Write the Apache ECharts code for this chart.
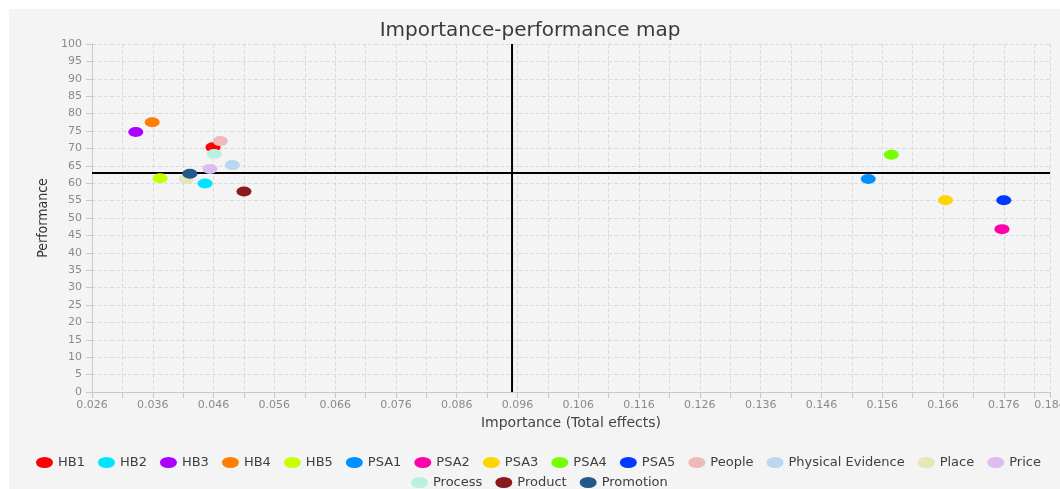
<!DOCTYPE html>
<html>
<head>
<meta charset="utf-8">
<script src="https://cdn.jsdelivr.net/npm/echarts@6/dist/echarts.min.js"></script>
<style>
  html, body { margin: 0; padding: 0; background: #fff; }
  #panel { position: absolute; left: 9px; top: 9px; width: 1051px; height: 480px; background: #f4f4f4; }
  #chart { position: absolute; left: 0; top: 0; width: 1060px; height: 489px; }
</style>
</head>
<body>
<div id="panel"></div>
<div id="chart"></div>
<script>
// constructs / indicators
var names = ['HB1', 'HB2', 'HB3', 'HB4', 'HB5', 'PSA1', 'PSA2', 'PSA3', 'PSA4', 'PSA5',
  'People', 'Physical Evidence', 'Place', 'Price', 'Process', 'Product', 'Promotion'];
// importance (total effects)
var importance = [0.0459, 0.0446, 0.0332, 0.0359, 0.0372, 0.1537, 0.1757, 0.1664, 0.1575, 0.1760,
  0.0471, 0.0491, 0.0415, 0.0454, 0.0461, 0.0510, 0.0421];
// performance
var performance = [70.3, 59.9, 74.7, 77.5, 61.4, 61.2, 46.8, 55.1, 68.2, 55.1,
  72.1, 65.2, 61.2, 64.1, 68.4, 57.6, 62.7];
var colors = ['#ff0000', '#00e5ff', '#aa00ff', '#ff7f00', '#c6ff00', '#0091ff', '#ff00aa', '#ffd500', '#76ff03', '#0038ff',
  '#f0b9b9', '#b9d7f0', '#e6e6b9', '#dcbdf0', '#b9f0df', '#8b1a1a', '#1f5a8a'];
// mean lines
var meanImportance = 0.0951;
var meanPerformance = 62.9;
var xMin = 0.026, xMax = 0.1836;

var chart = echarts.init(document.getElementById('chart'));

var series = [];
for (var i = 0; i < names.length; i++) {
  series.push({
    name: names[i],
    type: 'scatter',
    symbol: 'circle',
    symbolSize: [15, 10],
    itemStyle: { color: colors[i], opacity: 1 },
    z: 3,
    data: [[importance[i], performance[i]]]
  });
}
// the two mean lines
var meanLine = { type: 'line', symbol: 'none', silent: true, z: 2,
  lineStyle: { color: '#000', width: 2 } };
series.push(Object.assign({ name: 'meanX', data: [[meanImportance, 0], [meanImportance, 100]] }, meanLine));
series.push(Object.assign({ name: 'meanY', data: [[xMin, meanPerformance], [xMax, meanPerformance]] }, meanLine));

var font = '"DejaVu Sans", sans-serif';
var ellipse = 'path://M0,1a1,1 0 1,0 2,0a1,1 0 1,0 -2,0z';
var legendCommon = {
  icon: ellipse,
  symbolKeepAspect: false,
  itemWidth: 17,
  itemHeight: 11,
  itemGap: 13,
  textStyle: { fontFamily: font, fontSize: 13, color: '#404040' }
};

var option = {
  animation: false,
  textStyle: { fontFamily: font },
  title: {
    text: 'Importance-performance map',
    left: 'center',
    top: 16,
    textStyle: { fontFamily: font, fontSize: 20, fontWeight: 'normal', color: '#3a3a3a' }
  },
  legend: [
    Object.assign({ top: 451, left: 31, data: names.slice(0, 14) }, legendCommon),
    Object.assign({ top: 471, left: 406, data: names.slice(14) }, legendCommon)
  ],
  grid: { left: 92, right: 10, top: 44, bottom: 97, outerBoundsMode: 'none', containLabel: false },
  xAxis: {
    type: 'value',
    min: xMin,
    max: xMax,
    interval: 0.005,
    name: 'Importance (Total effects)',
    nameLocation: 'middle',
    nameGap: 23,
    nameTextStyle: { fontFamily: font, fontSize: 14, color: '#444' },
    axisLine: { lineStyle: { color: '#c8c8c8' } },
    axisTick: { show: true, length: 6, lineStyle: { color: '#c8c8c8' } },
    axisLabel: {
      color: '#8a8a8a', fontSize: 11, margin: 8,
      formatter: function (v, idx) {
        if (idx % 2) return '';
        return (Math.round(v * 1000) / 1000).toFixed(3);
      }
    },
    splitLine: { show: true, lineStyle: { color: '#dcdcdc', type: 'dashed' } }
  },
  yAxis: {
    type: 'value',
    min: 0,
    max: 100,
    interval: 5,
    name: 'Performance',
    nameLocation: 'middle',
    nameGap: 42,
    nameTextStyle: { fontFamily: '"Liberation Sans Narrow", "DejaVu Sans Condensed", sans-serif', fontSize: 14, color: '#333' },
    axisLine: { show: true, lineStyle: { color: '#c8c8c8' } },
    axisTick: { show: true, length: 6, lineStyle: { color: '#c8c8c8' } },
    axisLabel: { color: '#8a8a8a', fontSize: 11, margin: 10 },
    splitLine: { show: true, lineStyle: { color: '#dcdcdc', type: 'dashed' } }
  },
  series: series
};

chart.setOption(option);
</script>
</body>
</html>
